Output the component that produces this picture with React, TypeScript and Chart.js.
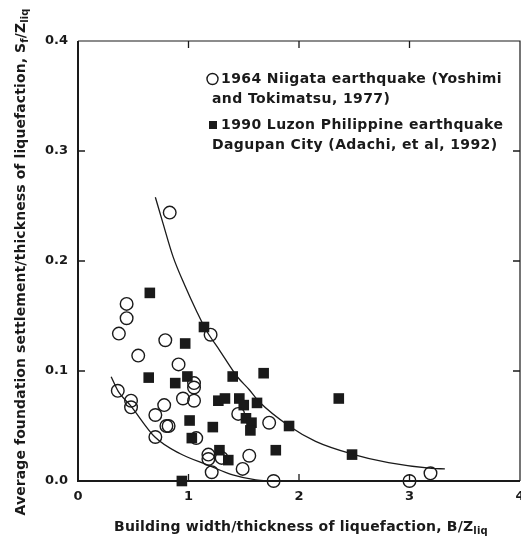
import React, { useEffect, useRef } from "react";
import { Chart, registerables } from "chart.js";

Chart.register(...registerables);

// 1964 Niigata earthquake (open circles)
const niigataX = [0.83, 0.44, 0.44, 0.37, 0.545, 0.79, 1.2, 0.91, 1.05, 1.05, 0.95, 1.05, 0.36, 0.48, 0.48, 0.78, 0.7, 0.82, 0.8, 0.7, 1.07, 1.45, 1.18, 1.18, 1.3, 1.21, 1.55, 1.49, 1.73, 1.77, 3.0, 3.19];
const niigataY = [0.244, 0.161, 0.148, 0.134, 0.114, 0.128, 0.133, 0.106, 0.089, 0.085, 0.075, 0.073, 0.082, 0.073, 0.067, 0.069, 0.06, 0.05, 0.05, 0.04, 0.039, 0.061, 0.024, 0.02, 0.021, 0.008, 0.023, 0.011, 0.053, 0.0, 0.0, 0.007];

// 1990 Luzon Philippine earthquake (filled squares)
const luzonX = [0.65, 0.97, 1.14, 0.64, 0.88, 0.99, 1.27, 1.33, 1.4, 1.01, 1.03, 1.22, 1.46, 1.5, 1.52, 1.57, 1.56, 1.62, 1.28, 1.36, 0.94, 1.68, 1.91, 1.79, 2.36, 2.48];
const luzonY = [0.171, 0.125, 0.14, 0.094, 0.089, 0.095, 0.073, 0.075, 0.095, 0.055, 0.039, 0.049, 0.075, 0.069, 0.057, 0.053, 0.046, 0.071, 0.028, 0.019, 0.0, 0.098, 0.05, 0.028, 0.075, 0.024];

// Bounding curves
const upperCurveX = [0.7, 0.77, 0.86, 0.97, 1.07, 1.16, 1.28, 1.44, 1.55, 1.64, 1.91, 2.15, 2.48, 2.81, 3.2, 3.32];
const upperCurveY = [0.258, 0.234, 0.204, 0.177, 0.155, 0.137, 0.119, 0.095, 0.083, 0.072, 0.05, 0.036, 0.0245, 0.0167, 0.0115, 0.011];
const lowerCurveX = [0.3, 0.367, 0.472, 0.696, 0.921, 1.175, 1.4, 1.61, 1.76];
const lowerCurveY = [0.0948, 0.081, 0.069, 0.04, 0.025, 0.0145, 0.0055, 0.001, 0.0];

// Axis ticks
const xTickLabels = ["0", "1", "2", "3", "4"];
const xTickValues = [0, 1, 2, 3, 4];
const innerXTicks = [1, 2, 3];
const innerYTicks = [0.1, 0.2, 0.3];

const legendLines = [
  { text: "1964 Niigata earthquake (Yoshimi", marker: "circle" },
  { text: "and Tokimatsu, 1977)", marker: "" },
  { text: "1990 Luzon Philippine earthquake", marker: "rect" },
  { text: "Dagupan City (Adachi, et al, 1992)", marker: "" },
];

const xTitle = [
  { text: "Building width/thickness of liquefaction, B/Z", sub: false },
  { text: "liq", sub: true },
];
const yTitle = [
  { text: "Average foundation settlement/thickness of liquefaction, S", sub: false },
  { text: "f", sub: true },
  { text: "/Z", sub: false },
  { text: "liq", sub: true },
];

const INK = "#1a1a1a";
const FONT = "'DejaVu Sans', sans-serif";

function drawRich(ctx: CanvasRenderingContext2D, segs: { text: string; sub: boolean }[], cx: number, cy: number, size: number, subSize: number, ls: number) {
  const mainFont = `bold ${size}px ${FONT}`;
  const subFont = `bold ${subSize}px ${FONT}`;
  (ctx as any).letterSpacing = `${ls}px`;
  let total = 0;
  const widths = segs.map((s) => {
    ctx.font = s.sub ? subFont : mainFont;
    const w = ctx.measureText(s.text).width;
    total += w;
    return w;
  });
  let x = cx - total / 2;
  ctx.textAlign = "left";
  ctx.textBaseline = "middle";
  segs.forEach((s, i) => {
    ctx.font = s.sub ? subFont : mainFont;
    ctx.fillText(s.text, x, cy + (s.sub ? 4 : 0));
    x += widths[i];
  });
  (ctx as any).letterSpacing = "0px";
}

const decorPlugin = {
  id: "decor",
  afterDraw(chart: any) {
    const ctx: CanvasRenderingContext2D = chart.ctx;
    const { left, right, top, bottom } = chart.chartArea;
    const xs = chart.scales.x;
    const ys = chart.scales.y;
    ctx.save();
    ctx.strokeStyle = INK;
    ctx.fillStyle = INK;
    // frame
    ctx.lineWidth = 1.2;
    ctx.beginPath();
    ctx.moveTo(left, top);
    ctx.lineTo(right, top);
    ctx.lineTo(right, bottom);
    ctx.stroke();
    ctx.lineWidth = 2;
    ctx.beginPath();
    ctx.moveTo(left, top);
    ctx.lineTo(left, bottom);
    ctx.lineTo(right, bottom);
    ctx.stroke();
    // inward ticks
    ctx.lineWidth = 1.3;
    ctx.beginPath();
    innerXTicks.forEach((v) => {
      const px = xs.getPixelForValue(v);
      ctx.moveTo(px, bottom);
      ctx.lineTo(px, bottom - 7);
      ctx.moveTo(px, top);
      ctx.lineTo(px, top + 7);
    });
    innerYTicks.forEach((v) => {
      const py = ys.getPixelForValue(v);
      ctx.moveTo(left, py);
      ctx.lineTo(left + 7, py);
      ctx.moveTo(right, py);
      ctx.lineTo(right - 7, py);
    });
    ctx.stroke();

    // x tick labels
    ctx.font = `bold 13px ${FONT}`;
    ctx.textAlign = "center";
    ctx.textBaseline = "middle";
    xTickValues.forEach((v, i) => {
      ctx.fillText(xTickLabels[i], xs.getPixelForValue(v), bottom + 16);
    });

    // legend
    const lineY = [79, 99, 125, 145];
    ctx.font = `bold 14px ${FONT}`;
    (ctx as any).letterSpacing = "0.4px";
    ctx.textBaseline = "middle";
    ctx.textAlign = "left";
    legendLines.forEach((l, i) => {
      const y = lineY[i];
      if (l.marker === "circle") {
        ctx.lineWidth = 1.4;
        ctx.beginPath();
        ctx.arc(212.5, y, 5.5, 0, Math.PI * 2);
        ctx.stroke();
      } else if (l.marker === "rect") {
        ctx.fillRect(209, y - 4, 8, 8);
      }
      ctx.fillText(l.text, l.marker ? 221 : 212, y);
    });
    (ctx as any).letterSpacing = "0px";

    // axis titles
    drawRich(ctx, xTitle, 301, 527, 14, 10, 0.2);
    ctx.translate(21, 262);
    ctx.rotate(-Math.PI / 2);
    drawRich(ctx, yTitle, 0, 0, 14, 10, 0.1);
    ctx.restore();
  },
};

export default function App() {
  const ref = useRef<HTMLCanvasElement | null>(null);
  useEffect(() => {
    if (!ref.current) return;
    const tickFont = { family: FONT, size: 13, weight: "bold" as const };
    const chart = new Chart(ref.current, {
      type: "scatter",
      data: {
        datasets: [
          {
            label: "upper",
            type: "line",
            data: upperCurveX.map((x, i) => ({ x, y: upperCurveY[i] })),
            borderColor: INK,
            borderWidth: 1.3,
            pointRadius: 0,
            cubicInterpolationMode: "monotone",
            fill: false,
          } as any,
          {
            label: "lower",
            type: "line",
            data: lowerCurveX.map((x, i) => ({ x, y: lowerCurveY[i] })),
            borderColor: INK,
            borderWidth: 1.3,
            pointRadius: 0,
            cubicInterpolationMode: "monotone",
            fill: false,
          } as any,
          {
            label: "1964 Niigata earthquake",
            data: niigataX.map((x, i) => ({ x, y: niigataY[i] })),
            pointStyle: "circle",
            pointRadius: 6.3,
            borderWidth: 1.4,
            borderColor: INK,
            backgroundColor: "rgba(0,0,0,0)",
            clip: false,
          } as any,
          {
            label: "1990 Luzon Philippine earthquake",
            data: luzonX.map((x, i) => ({ x, y: luzonY[i] })),
            pointStyle: "rect",
            pointRadius: 7.5,
            borderWidth: 0,
            borderColor: INK,
            backgroundColor: INK,
            clip: false,
          } as any,
        ],
      },
      options: {
        animation: false,
        responsive: false,
        devicePixelRatio: 1,
        layout: { autoPadding: false, padding: { top: 41, right: 1, left: 0, bottom: 0 } },
        plugins: { legend: { display: false }, tooltip: { enabled: false } },
        scales: {
          x: {
            type: "linear",
            min: 0,
            max: 4,
            ticks: { display: false, stepSize: 1 },
            grid: { display: false, drawTicks: false },
            border: { display: false },
            afterFit: (s: any) => {
              s.height = 61;
              s.paddingLeft = 0;
              s.paddingRight = 0;
            },
          },
          y: {
            type: "linear",
            min: 0,
            max: 0.4,
            ticks: { stepSize: 0.1, font: tickFont, color: INK, padding: 10, callback: (v: any) => Number(v).toFixed(1) },
            grid: { display: false, drawTicks: false },
            border: { display: false },
            afterFit: (s: any) => {
              s.width = 78;
              s.paddingTop = 0;
              s.paddingBottom = 0;
            },
          },
        },
      } as any,
      plugins: [decorPlugin],
    });
    return () => chart.destroy();
  }, []);
  return (
    <div style={{ position: "absolute", left: 0, top: 0, width: 521, height: 542, background: "#fff" }}>
      <canvas ref={ref} width={521} height={542} style={{ display: "block", width: 521, height: 542 }} />
    </div>
  );
}
